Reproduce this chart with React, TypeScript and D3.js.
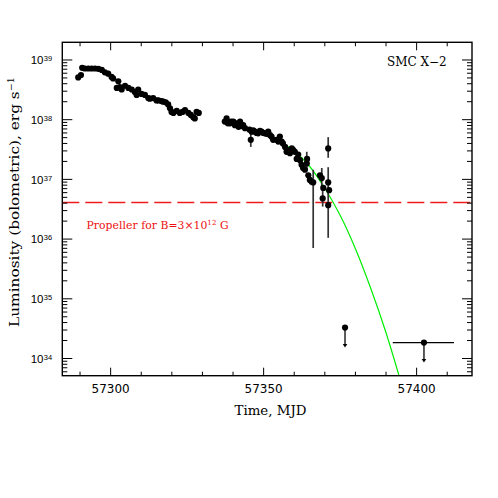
import React from 'react';
import * as d3 from 'd3';

const W = 498;
const H = 498;
const PL = 62.3, PR = 472, PT = 42.3, PB = 375.7;

// Swift/XRT light curve of SMC X-2 (bolometric luminosity, erg/s)
const seg1Mjd = [57289.4, 57290.3, 57290.7, 57291.6, 57292.7, 57293.8, 57294.9, 57296.0, 57297.1, 57298.1, 57299.2, 57300.3, 57300.8, 57302.5, 57302.0, 57303.0, 57303.6, 57304.7, 57305.8, 57306.9, 57307.9, 57309.0, 57308.5, 57310.1, 57311.2, 57312.3, 57312.8, 57313.9, 57315.0, 57315.6, 57316.6, 57317.2, 57318.0, 57318.8, 57319.4, 57319.9, 57320.5, 57321.6, 57322.6, 57323.5, 57324.3, 57325.4, 57326.2, 57327.0, 57327.5, 57328.1, 57328.8];
const seg1Lum = [5.1e38, 5.6e38, 7.4e38, 7.2e38, 7.2e38, 7.2e38, 7.2e38, 7.1e38, 6.8e38, 6.2e38, 5.9e38, 5.2e38, 4.9e38, 4.4e38, 3.4e38, 3.5e38, 3.2e38, 3.7e38, 3.4e38, 3.2e38, 2.9e38, 3.2e38, 2.6e38, 2.7e38, 2.6e38, 2.3e38, 2.25e38, 2.3e38, 2.1e38, 2.1e38, 2.05e38, 2.0e38, 1.95e38, 1.8e38, 1.55e38, 1.35e38, 1.3e38, 1.4e38, 1.3e38, 1.35e38, 1.45e38, 1.3e38, 1.2e38, 1.1e38, 1.05e38, 1.35e38, 1.3e38];

const seg2Mjd = [57337.3, 57337.9, 57338.3, 57339.0, 57339.4, 57340.1, 57340.6, 57341.2, 57341.8, 57342.3, 57342.7, 57343.3, 57343.9, 57345.4, 57345.8, 57346.1, 57346.6, 57347.2, 57347.7, 57348.2, 57348.8, 57349.3, 57349.9, 57350.4, 57351.0, 57351.5, 57352.1, 57352.6, 57353.1, 57354.2, 57354.8, 57355.3, 57355.9, 57356.3, 57357.0, 57357.5, 57357.9, 57358.6, 57359.2, 57359.7, 57360.2, 57360.8, 57361.3, 57361.9, 57362.4, 57362.9, 57363.5, 57364.1, 57364.2, 57364.6, 57365.1, 57365.7, 57366.2, 57368.4, 57369.0, 57369.5, 57369.3, 57371.1, 57371.1, 57371.4, 57371.1];
const seg2Lum = [9.3e37, 1.05e38, 8.7e37, 8.7e37, 9.3e37, 9.3e37, 8.1e37, 8.7e37, 7.6e37, 9.3e37, 7.8e37, 8.1e37, 7.2e37, 6.8e37, 4.6e37, 6.3e37, 6.6e37, 6.3e37, 6.0e37, 5.9e37, 6.5e37, 6.3e37, 6.0e37, 5.9e37, 5.8e37, 6.3e37, 5.5e37, 5.2e37, 4.6e37, 4.6e37, 4.3e37, 5.2e37, 4.3e37, 4.0e37, 3.5e37, 2.9e37, 3.1e37, 2.75e37, 3.3e37, 3.1e37, 2.9e37, 2.2e37, 2.6e37, 2.1e37, 1.75e37, 1.55e37, 1.45e37, 1.85e37, 2.2e37, 1.17e37, 9.8e36, 9.1e36, 8.9e36, 1.17e37, 1.05e37, 7.2e36, 4.8e36, 3.3e37, 8.9e36, 6.6e36, 3.7e36];

// vertical error bars
const errMjd = [57345.8, 57364.1, 57366.2, 57369.0, 57369.3, 57371.1, 57371.1];
const errHi = [6.0e37, 2.9e37, 1.45e37, 1.55e37, 8.1e36, 5.1e37, 1.6e37];
const errLo = [3.5e37, 1.45e37, 7.1e35, 6.6e36, 3.5e36, 2.3e37, 1.05e36];

// upper limits
const ulMjd = [57376.6, 57402.4];
const ulLum = [3.3e34, 1.85e34];
const ulMjdLo = [57376.6, 57392.2];
const ulMjdHi = [57376.6, 57412.2];

// model curve
const modelMjd = [57355, 57360, 57365, 57370, 57375, 57380, 57385, 57390, 57395];
const modelLum = [4.4e37, 3.0e37, 1.66e37, 7.1e36, 2.5e36, 6.9e35, 1.5e35, 2.7e34, 3.8e33];

const propellerLum = 4.1e36;

const xMajor = [57300, 57350, 57400];
const xMinor = [57290, 57300, 57310, 57320, 57330, 57340, 57350, 57360, 57370, 57380, 57390, 57400, 57410];
const yDecades = [34, 35, 36, 37, 38, 39];

export default function App() {
  const x = d3.scaleLinear().domain([57284.2, 57418.1]).range([PL, PR]);
  const y = d3.scaleLog().domain([Math.pow(10, 33.712), Math.pow(10, 39.296)]).range([PB, PT]);

  const yMinor: number[] = [];
  for (let e = 33; e <= 39; e++) {
    for (let m = 2; m <= 9; m++) {
      const v = m * Math.pow(10, e);
      if (y(v) <= PB && y(v) >= PT) yMinor.push(v);
    }
  }

  const pts = [
    ...seg1Mjd.map((m, i) => [m, seg1Lum[i]]),
    ...seg2Mjd.map((m, i) => [m, seg2Lum[i]]),
  ];

  const line = d3.line<number>()
    .x((_, i) => x(modelMjd[i]))
    .y((d) => y(d))
    .curve(d3.curveCatmullRom);

  const serif = 'DejaVu Serif';
  const sans = 'DejaVu Sans';

  return (
    <div style={{ position: 'absolute', left: 0, top: 0 }}>
      <svg width={W} height={H} viewBox={`0 0 ${W} ${H}`} style={{ display: 'block', background: '#fff' }}>
        <defs>
          <clipPath id="plotclip">
            <rect x={PL} y={PT} width={PR - PL} height={PB - PT} />
          </clipPath>
        </defs>
        <rect x={0} y={0} width={W} height={H} fill="#fff" />

        {/* propeller line */}
        <line x1={PL} x2={PR} y1={y(propellerLum)} y2={y(propellerLum)} stroke="#ee1c1c" strokeWidth={1.3} strokeDasharray="17,6" />
        <text x={86.5} y={228.5} fill="#ee1010" fontFamily={serif} fontSize={10.8} textLength={142} lengthAdjust="spacing">
          Propeller for B=3×10<tspan fontSize={7} dy={-4}>12</tspan><tspan dy={4}> G</tspan>
        </text>

        {/* model */}
        <g clipPath="url(#plotclip)">
          <path d={line(modelLum) || ''} fill="none" stroke="#00ee00" strokeWidth={1.2} />
        </g>

        {/* error bars */}
        {errMjd.map((m, i) => (
          <line key={'e' + i} x1={x(m)} x2={x(m)} y1={y(errHi[i])} y2={y(errLo[i])} stroke="#333" strokeWidth={1.7} />
        ))}

        {/* points */}
        {pts.map((p, i) => (
          <circle key={'p' + i} cx={x(p[0])} cy={y(p[1])} r={3.1} fill="#000" />
        ))}

        {/* upper limits */}
        {ulMjd.map((m, i) => {
          const cx = x(m);
          const cy = y(ulLum[i]);
          const tip = cy + 20;
          return (
            <g key={'u' + i}>
              {ulMjdHi[i] > ulMjdLo[i] && (
                <line x1={x(ulMjdLo[i])} x2={x(ulMjdHi[i])} y1={cy} y2={cy} stroke="#000" strokeWidth={1.3} />
              )}
              <line x1={cx} x2={cx} y1={cy} y2={tip - 3} stroke="#333" strokeWidth={1.6} />
              <path d={`M${cx - 2.3},${tip - 3.5} L${cx + 2.3},${tip - 3.5} L${cx},${tip} Z`} fill="#000" />
              <circle cx={cx} cy={cy} r={3.1} fill="#000" />
            </g>
          );
        })}

        {/* frame */}
        <rect x={PL} y={PT} width={PR - PL} height={PB - PT} fill="none" stroke="#000" strokeWidth={1.4} />

        {/* x ticks */}
        {xMinor.map((v) => {
          const len = xMajor.includes(v) ? 8 : 4;
          return (
            <g key={'xt' + v}>
              <line x1={x(v)} x2={x(v)} y1={PB} y2={PB - len} stroke="#000" strokeWidth={1} />
              <line x1={x(v)} x2={x(v)} y1={PT} y2={PT + len} stroke="#000" strokeWidth={1} />
            </g>
          );
        })}
        {xMajor.map((v) => (
          <text key={'xl' + v} x={x(v)} y={393.3} textAnchor="middle" fontFamily={sans} fontSize={12}>{v}</text>
        ))}

        {/* y ticks */}
        {yDecades.map((e) => {
          const yy = y(Math.pow(10, e));
          return (
            <g key={'yt' + e}>
              <line x1={PL} x2={PL + 10} y1={yy} y2={yy} stroke="#000" strokeWidth={1} />
              <line x1={PR} x2={PR - 10} y1={yy} y2={yy} stroke="#000" strokeWidth={1} />
              <text x={43.5} y={yy + 4.3} textAnchor="end" fontFamily="Liberation Sans" fontSize={11.5}>10</text>
              <text x={43.8} y={yy + 1.3} textAnchor="start" fontFamily="Liberation Sans" fontSize={7.5}>{e}</text>
            </g>
          );
        })}
        {yMinor.map((v, i) => (
          <g key={'ym' + i}>
            <line x1={PL} x2={PL + 5} y1={y(v)} y2={y(v)} stroke="#000" strokeWidth={1} />
            <line x1={PR} x2={PR - 5} y1={y(v)} y2={y(v)} stroke="#000" strokeWidth={1} />
          </g>
        ))}

        {/* labels */}
        <text x={270.5} y={415} textAnchor="middle" fontFamily={serif} fontSize={13} textLength={72} lengthAdjust="spacingAndGlyphs">Time, MJD</text>
        <text transform="translate(19,202) rotate(-90)" textAnchor="middle" fontFamily={serif} fontSize={13.5} textLength={250} lengthAdjust="spacingAndGlyphs">
          Luminosity (bolometric), erg s<tspan fontSize={8.5} dy={-5.5}>−1</tspan>
        </text>
        <text x={387} y={66} fontFamily={serif} fontSize={12}>SMC X−2</text>
      </svg>
    </div>
  );
}
